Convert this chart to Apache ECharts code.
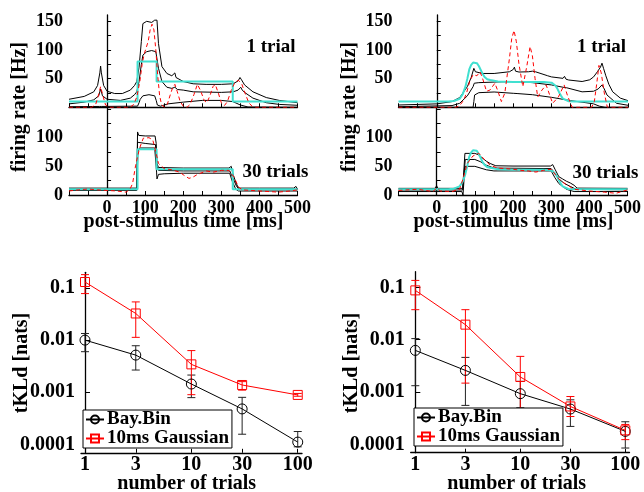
<!DOCTYPE html>
<html><head><meta charset="utf-8">
<script src="https://cdn.jsdelivr.net/npm/echarts@6/dist/echarts.min.js"></script>
<style>html,body{margin:0;padding:0;background:#fff}#c{width:644px;height:492px}</style>
</head><body><div id="c"></div>
<script>
// ---------- Top panels: firing rate vs post-stimulus time ----------
const timeTicks = [-100,-50,0,50,100,150,200,250,300,350,400,450,500];
const timeLabels = [0,100,200,300,400,500];
const rateTicks = [0,25,50,75,100,125,150];
const upperRateLabels = [50,100,150];
const lowerRateLabels = [0,50,100];

// left panel: true rate (step)
const leftTrue = [[-100,10],[80,10],[80,80],[130,80],[130,45],[330,45],[330,10],[500,10]];
// left, 1 trial
const l1Upper = [[-100,14],[-60,19],[-35,27],[-25,38],[-19,60],[-17,72],[-15,60],[-9,38],[0,28],[20,24],[40,24],[61,30],[72,38],[78,45],[84,70],[90,115],[94,146],[104,150],[117,148],[125,152],[131,152],[135,111],[144,71],[157,59],[170,55],[175,58],[178,60],[181,52],[200,45],[226,41],[260,40],[300,40],[331,41],[344,46],[349,52],[351,55],[353,48],[361,39],[383,27],[418,17],[452,12],[500,8]];
const l1Mid = [[-100,6],[-60,9],[-35,13],[-22,20],[-17,32],[-12,20],[0,14],[35,12],[61,16],[72,22],[78,27],[84,45],[90,75],[94,91],[104,97],[117,99],[128,97],[135,68],[144,45],[157,35],[170,33],[178,35],[185,31],[200,30],[226,27],[300,26],[331,27],[344,30],[351,35],[355,30],[361,26],[383,16],[418,8],[452,5],[500,3.5]];
const l1Low = [[-100,1],[-20,1.5],[-17,3],[-14,1.5],[80,2],[84,8],[87,14],[94,20],[110,22],[125,20],[129,12],[132,4],[140,2],[160,6],[200,9],[250,12],[300,12],[330,10],[350,4],[370,0.5],[500,0]];
const l1Gauss = [[-100,0],[-40,0],[-30,5],[-24,18],[-17,36],[-10,18],[-4,4],[5,0],[60,0],[70,5],[78,18],[86,45],[92,75],[97,92],[102,95],[108,115],[113,135],[118,145],[123,135],[128,100],[133,55],[138,20],[143,5],[150,0],[158,5],[166,22],[172,34],[178,40],[184,28],[192,10],[200,2],[210,0],[218,5],[228,22],[237,40],[245,30],[255,12],[262,8],[270,20],[278,36],[284,40],[292,25],[300,8],[308,3],[316,10],[326,30],[336,44],[345,47],[354,40],[362,25],[372,8],[382,1],[390,0],[500,0]];
// left, 30 trials
const l30Upper = [[-100,12],[78,12],[79,60],[80,110],[83,104],[100,103],[126,103],[129,90],[131,55],[135,48],[200,47],[320,47],[326,50],[330,38],[338,22],[345,12],[400,12],[490,12],[496,15],[500,10]];
const l30Mid = [[-100,10],[78,10],[80,92],[100,90],[127,88],[131,50],[135,43],[200,42],[322,42],[330,30],[340,15],[347,10],[500,10]];
const l30Low = [[-100,8],[78,8],[81,76],[86,82],[125,82],[130,40],[131,28],[135,36],[150,37],[200,38],[322,38],[328,25],[338,10],[345,7],[500,7]];
const l30Gauss = [[-100,7],[-75,9],[-50,10.5],[-25,9],[0,8],[25,7],[50,5],[60,10],[67,20],[75,52],[85,81],[95,99],[110,100],[120,96],[128,75],[135,55],[150,46],[170,44],[190,40],[205,33],[215,29],[225,31],[235,35],[260,42],[280,40],[300,43],[320,43],[328,36],[335,29],[345,14],[355,9],[400,7],[450,5],[480,7],[500,9]];

// right panel: true rate (smooth)
const rightTrue = [[-100,10],[30,10],[45,11],[60,15],[68,23],[75,36],[80,50],[85,66],[90,74],[95,78],[100,79],[105,77],[110,72],[115,65],[120,58],[125,53],[132,49],[140,47.5],[160,45],[200,44],[280,44],[300,43],[310,38],[315,33],[320,26],[325,20],[330,15],[335,12.5],[345,10.5],[360,10],[500,10]];
// right, 1 trial
const r1Upper = [[-100,4],[0,6],[40,10],[60,17],[80,36],[90,52],[97,68],[101,62],[105,60],[120,59],[150,59],[190,62],[200,66],[203,70],[206,63],[215,61.5],[240,62],[250,63],[254,66],[258,62],[290,55],[300,53],[330,50.5],[334,54],[338,49],[345,47.6],[380,45],[400,48],[410,53],[420,62],[428,70],[432,77],[436,68],[442,55],[450,40],[460,27],[480,16],[500,11.6]];
const r1Mid = [[-100,1],[40,3],[60,7],[80,20],[95,36],[98,42],[100,44],[110,43],[150,44],[200,45],[205,47],[210,45],[250,43],[300,39],[330,35],[335,36],[340,34],[380,27],[410,28],[422,32],[432,39],[438,32],[445,21.5],[470,7],[500,3.5]];
const r1Low = [[-100,0],[95,0],[97,10],[99,21.5],[110,25.5],[150,26.7],[200,24.4],[205,21],[210,24],[250,22],[300,17.4],[350,11.6],[390,8],[410,6],[425,2],[440,0],[500,0]];
const r1Gauss = [[-100,0],[50,0],[60,3],[70,12],[78,25],[86,45],[95,57],[105,55],[113,62],[120,50],[130,28],[139,30],[152,42],[160,28],[169,10],[178,25],[190,85],[196,120],[202,134],[208,115],[215,75],[225,36],[235,70],[244,106],[250,90],[257,50],[264,18],[275,30],[286,39],[295,22],[303,7],[318,18],[333,39],[342,20],[354,0],[405,0],[412,10],[418,40],[424,73],[430,60],[438,25],[446,0],[500,0]];
// right, 30 trials
const r30Upper = [[-100,11.6],[-5,11.6],[0,16],[3,11.6],[68,11.6],[71,40],[74,72.6],[100,72.6],[110,70],[130,59],[140,55],[155,51],[200,50.5],[298,50.5],[304,53],[310,45],[320,32],[330,28],[340,24],[350,21],[360,17],[368,12],[500,11.6]];
const r30Mid = [[-100,8.7],[68,8.7],[72,40],[75,62],[100,62],[115,58],[130,52],[150,47],[300,46],[310,38],[320,28],[335,20],[350,15],[365,10],[500,9]];
const r30Low = [[-100,6],[66,6],[69,0],[72,30],[75,50],[100,50],[130,44],[150,42],[300,42],[310,30],[320,20],[340,10],[360,6],[500,6]];
const r30Gauss = [[-100,8],[-50,10],[-10,6],[0,12],[10,7],[40,6],[60,10],[70,30],[80,55],[95,68],[110,73],[125,62],[140,52],[160,47],[200,45],[220,43],[240,42],[260,40],[280,43],[300,45],[320,28],[340,18],[360,10],[400,7],[440,5],[470,3],[500,9]];

// ---------- Bottom panels: tKLd vs number of trials ----------
const trials = [1,3,10,30,100];
const klTicks = [0.0001,0.001,0.01,0.1];
const klTickLabels = ['0.0001','0.001','0.01','0.1'];

const leftBay   = [0.0100, 0.00516, 0.00144, 0.00048, 0.000111];
const leftBayLo = [0.0060, 0.00267, 0.00079, 0.000157, 0.00009];
const leftBayHi = [0.0134, 0.0078, 0.00214, 0.0008, 0.000177];
const leftGau   = [0.130, 0.0324, 0.00343, 0.00138, 0.00089];
const leftGauLo = [0.078, 0.0113, 0.0009, 0.0011, 0.00084];
const leftGauHi = [0.180, 0.054, 0.0063, 0.0016, 0.00095];

const rightBay   = [0.00625, 0.00259, 0.00093, 0.000473, 0.000177];
const rightBayLo = [0.00132, 0.000555, 0.0005, 0.00022, 0.000085];
const rightBayHi = [0.0105, 0.00459, 0.0016, 0.00071, 0.00027];
const rightGau   = [0.0877, 0.0194, 0.00194, 0.00053, 0.000185];
const rightGauLo = [0.0375, 0.00148, 0.00037, 0.00034, 0.000123];
const rightGauHi = [0.136, 0.0375, 0.0048, 0.00082, 0.00024];

// ---------- styling ----------
const FONT = '"Liberation Serif","Times New Roman",serif';
const tickFont = {fontFamily: FONT, fontWeight: 'bold', fontSize: 18, color: '#000'};
const tickFontBig = {fontFamily: FONT, fontWeight: 'bold', fontSize: 20, color: '#000'};
const CYAN = '#40E0D0', RED = '#ff0000', BLACK = '#000';
const L = Math.log10;

const axisLine = {show: true, lineStyle: {color: '#000', width: 1.3}};

function timeAxis(grid, labels) {
  return {type: 'value', gridIndex: grid, min: -100, max: 500, interval: 50,
    axisLine, splitLine: {show: false},
    axisTick: {inside: true, length: 4, customValues: timeTicks, lineStyle: {color: '#000'}},
    axisLabel: labels ? Object.assign({customValues: timeLabels, margin: 4}, tickFont) : {show: false}};
}
function rateAxis(grid, max, labels) {
  return {type: 'value', gridIndex: grid, min: 0, max: max,
    axisLine, splitLine: {show: false},
    axisTick: {inside: true, length: 4, customValues: rateTicks, lineStyle: {color: '#000'}},
    axisLabel: Object.assign({customValues: labels, margin: 6}, tickFont)};
}
function trialAxis(grid, min, max) {
  return {type: 'value', gridIndex: grid, min: min, max: max,
    axisLine, splitLine: {show: false},
    axisTick: {inside: true, length: 4, customValues: trials.map(L), lineStyle: {color: '#000'}},
    axisLabel: Object.assign({customValues: trials.map(L), margin: 2,
      formatter: v => String(Math.round(Math.pow(10, v)))}, tickFontBig)};
}
function klAxis(grid) {
  return {type: 'value', gridIndex: grid, min: -4.16, max: -0.7,
    axisLine, splitLine: {show: false},
    axisTick: {inside: true, length: 5, customValues: klTicks.map(L), lineStyle: {color: '#000'}},
    axisLabel: Object.assign({customValues: klTicks.map(L), margin: 6,
      formatter: v => { const i = klTicks.findIndex(t => Math.abs(L(t) - v) < 1e-6); return i >= 0 ? klTickLabels[i] : ''; }}, tickFontBig)};
}

function line(data, xi, color, width, dashed, z) {
  return {type: 'line', xAxisIndex: xi, yAxisIndex: xi, data: data, showSymbol: false, symbol: 'none',
    silent: true, z: z || 2,
    lineStyle: {color: color, width: width, type: dashed ? [4, 3] : 'solid'}};
}

function errRender(color) {
  return function (params, api) {
    const x = api.value(0);
    const lo = api.coord([x, api.value(1)]);
    const hi = api.coord([x, api.value(2)]);
    const w = 4, st = {stroke: color, lineWidth: 1};
    return {type: 'group', children: [
      {type: 'line', shape: {x1: lo[0], y1: lo[1], x2: hi[0], y2: hi[1]}, style: st},
      {type: 'line', shape: {x1: lo[0] - w, y1: lo[1], x2: lo[0] + w, y2: lo[1]}, style: st},
      {type: 'line', shape: {x1: hi[0] - w, y1: hi[1], x2: hi[0] + w, y2: hi[1]}, style: st}
    ]};
  };
}
function errSeries(idx, vals, lo, hi, color, name) {
  return {type: 'custom', name: name, xAxisIndex: idx, yAxisIndex: idx, clip: true, z: 3,
    renderItem: errRender(color), encode: {x: 0, y: [1, 2]},
    data: trials.map((t, i) => [L(t), L(lo[i]), L(hi[i])])};
}
function klLine(idx, vals, name, color, symbol) {
  return {type: 'line', name: name, xAxisIndex: idx, yAxisIndex: idx, z: 4,
    data: trials.map((t, i) => [L(t), L(vals[i])]),
    symbol: symbol, symbolSize: symbol === 'circle' ? 10 : 9, showSymbol: true,
    lineStyle: {color: color, width: 1},
    itemStyle: {color: 'rgba(255,255,255,0)', borderColor: color, borderWidth: 1}};
}

const series = [
  line(l1Upper, 0, BLACK, 1), line(l1Mid, 0, BLACK, 1), line(l1Low, 0, BLACK, 1),
  line(leftTrue, 0, CYAN, 2, false, 3), line(l1Gauss, 0, RED, 1, true, 4),
  line(l30Upper, 1, BLACK, 1), line(l30Mid, 1, BLACK, 1), line(l30Low, 1, BLACK, 1),
  line(leftTrue, 1, CYAN, 2, false, 3), line(l30Gauss, 1, RED, 1, true, 4),
  line(r1Upper, 2, BLACK, 1), line(r1Mid, 2, BLACK, 1), line(r1Low, 2, BLACK, 1),
  line(rightTrue, 2, CYAN, 2, false, 3), line(r1Gauss, 2, RED, 1, true, 4),
  line(r30Upper, 3, BLACK, 1), line(r30Mid, 3, BLACK, 1), line(r30Low, 3, BLACK, 1),
  line(rightTrue, 3, CYAN, 2, false, 3), line(r30Gauss, 3, RED, 1, true, 4),
  errSeries(4, leftBay, leftBayLo, leftBayHi, '#222', 'errBayL'),
  errSeries(4, leftGau, leftGauLo, leftGauHi, RED, 'errGauL'),
  klLine(4, leftBay, 'Bay.Bin', BLACK, 'circle'),
  klLine(4, leftGau, '10ms Gaussian', RED, 'rect'),
  errSeries(5, rightBay, rightBayLo, rightBayHi, '#222', 'errBayR'),
  errSeries(5, rightGau, rightGauLo, rightGauHi, RED, 'errGauR'),
  klLine(5, rightBay, 'Bay.Bin', BLACK, 'circle'),
  klLine(5, rightGau, '10ms Gaussian', RED, 'rect')
];

function txt(x, y, s, size, rot) {
  return {type: 'text', x: x, y: y, rotation: rot ? Math.PI / 2 : 0, silent: true,
    style: {text: s, font: 'bold ' + size + 'px ' + FONT, fill: '#000', textAlign: 'center', textVerticalAlign: 'middle'}};
}
function legendAt(left, top) {
  return {left: left, top: top, orient: 'vertical', itemGap: 0, itemWidth: 18, itemHeight: 10,
    padding: [0, 3, 0, 2], borderColor: '#000', borderWidth: 1, borderRadius: 0,
    backgroundColor: '#fff', selectedMode: false,
    textStyle: {fontFamily: FONT, fontWeight: 'bold', fontSize: 19, color: '#000', padding: [0, 0, 0, -2]},
    data: ['Bay.Bin', '10ms Gaussian']};
}

const option = {
  animation: false,
  backgroundColor: '#fff',
  grid: [
    {left: 69, top: 15, width: 228.5, height: 92.3},
    {left: 69, top: 107.3, width: 228.5, height: 87.7},
    {left: 398.5, top: 15, width: 229.5, height: 92.3},
    {left: 398.5, top: 107.3, width: 229.5, height: 87.7},
    {left: 81, top: 272.3, width: 221, height: 180.5},
    {left: 410.7, top: 271.7, width: 218.8, height: 181}
  ],
  xAxis: [
    timeAxis(0, false), timeAxis(1, true), timeAxis(2, false), timeAxis(3, true),
    trialAxis(4, -0.0376, 2.04), trialAxis(5, -0.044, 2.04)
  ],
  yAxis: [
    rateAxis(0, 161, upperRateLabels), rateAxis(1, 153, lowerRateLabels),
    rateAxis(2, 161, upperRateLabels), rateAxis(3, 153, lowerRateLabels),
    klAxis(4), klAxis(5)
  ],
  legend: [legendAt(83, 410), legendAt(414, 408)],
  series: series,
  graphic: [
    txt(20, 107, 'firing rate [Hz]', 20, true),
    txt(350, 107, 'firing rate [Hz]', 20, true),
    txt(183.5, 222, 'post-stimulus time [ms]', 20),
    txt(513.5, 222, 'post-stimulus time [ms]', 20),
    txt(271, 47, '1 trial', 19),
    txt(601.5, 47, '1 trial', 19),
    txt(275.5, 172, '30 trials', 19),
    txt(605.5, 173, '30 trials', 19),
    txt(21.7, 363, 'tKLd [nats]', 20, true),
    txt(351.7, 363, 'tKLd [nats]', 20, true),
    txt(186.7, 484, 'number of trials', 20),
    txt(516.7, 484, 'number of trials', 20)
  ]
};
const chart = echarts.init(document.getElementById('c'), null, {renderer: 'canvas'});
chart.setOption(option);
</script></body></html>
